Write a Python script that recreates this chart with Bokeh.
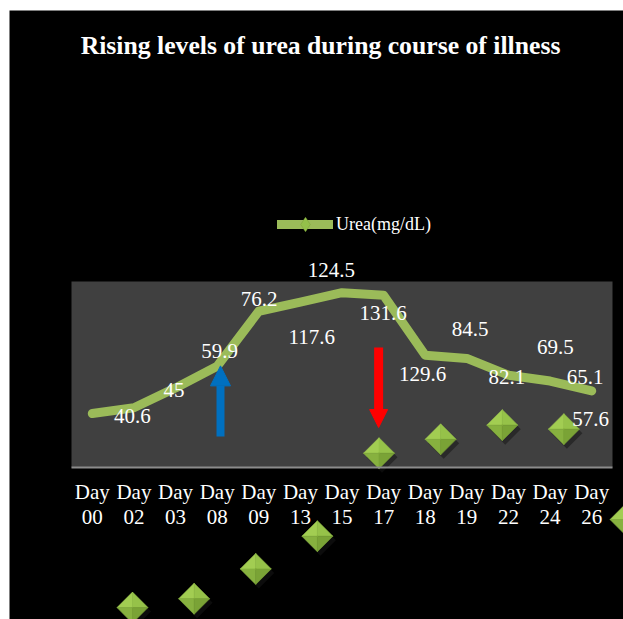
from bokeh.plotting import figure
from bokeh.models import (Range1d, LinearAxis, FixedTicker, BoxAnnotation, Arrow,
                          NormalHead, Legend, LegendItem, ColumnDataSource, Label)
from bokeh.embed import file_html
from bokeh.resources import INLINE

# ---- data ----
days = ["00", "02", "03", "08", "09", "13", "15", "17", "18", "19", "22", "24", "26"]
tick_labels = ["Day\n" + d for d in days]
urea = [40.6, 45, 59.9, 76.2, 117.6, 124.5, 131.6, 129.6, 84.5, 82.1, 69.5, 65.1, 57.6]
series_name = "Urea(mg/dL)"
title_text = "Rising levels of urea during course of illness"

# label placement offsets (pixels) as they appear in the original picture
label_dx = [40, 40, 44, 42, 53, 31, 41, 39, 45, 40, 47, 35, -1]
label_dy = [2, -18, -37, -67, 26, -32, 20, 79, -26, 19, -28, -4, 28]

idx = list(range(len(days)))
FONT = "Liberation Serif"

W, H = 614, 609

p = figure(width=W, height=H, output_backend="svg", toolbar_location=None,
           x_axis_type=None, y_axis_type=None,
           x_range=Range1d(-1.990, 12.764), y_range=Range1d(-114.41, 343.98),
           min_border=0)
p.margin = (10, 0, 0, 9)
p.background_fill_color = "black"
p.border_fill_color = "black"
p.outline_line_color = None
p.xgrid.visible = False
p.ygrid.visible = False

# marker layer is drawn on its own (enlarged) scales, as in the original picture
MX = (-1.996, 7.967)
MY = (34.66, 338.40)
p.extra_x_ranges = {"mx": Range1d(*MX)}
p.extra_y_ranges = {"my": Range1d(*MY)}
px_x = W / (MX[1] - MX[0])
px_y = H / (MY[1] - MY[0])

# plot area
p.add_layout(BoxAnnotation(left=-0.5, right=12.5, bottom=0, top=140,
                           fill_color="#404040", fill_alpha=1, line_color=None,
                           level="underlay"))

src = ColumnDataSource(dict(x=idx, y=urea, lab=[str(v) for v in urea],
                            dx=label_dx, dy=label_dy))

line_r = p.line("x", "y", source=src, line_color="#9bbb59", line_width=9,
                line_join="round", line_cap="round")

# diamond markers with facets and a soft shadow
hx, hy = 15.5 / px_x, 15.5 / px_y
sx, sy = 3 / px_x, -4 / px_y
shadow = dict(xs=[], ys=[])
facets = {k: dict(xs=[], ys=[]) for k in ("tl", "tr", "bl", "br")}
for i, v in zip(idx, urea):
    shadow["xs"].append([i - hx + sx, i + sx, i + hx + sx, i + sx])
    shadow["ys"].append([v + sy, v + hy + sy, v + sy, v - hy + sy])
    facets["tl"]["xs"].append([i - hx, i, i]); facets["tl"]["ys"].append([v, v + hy, v])
    facets["tr"]["xs"].append([i, i + hx, i]); facets["tr"]["ys"].append([v + hy, v, v])
    facets["bl"]["xs"].append([i - hx, i, i]); facets["bl"]["ys"].append([v, v - hy, v])
    facets["br"]["xs"].append([i, i + hx, i]); facets["br"]["ys"].append([v - hy, v, v])
p.patches("xs", "ys", source=ColumnDataSource(shadow), x_range_name="mx",
          y_range_name="my", fill_color="#151515", fill_alpha=0.55, line_color=None)
facet_col = {"tl": "#a2cd52", "tr": "#96c249", "bl": "#87b13f", "br": "#7aa336"}
for k, d in facets.items():
    p.patches("xs", "ys", source=ColumnDataSource(d), x_range_name="mx",
              y_range_name="my", fill_color=facet_col[k], line_color=facet_col[k],
              line_width=0.6)

# legend glyph for the marker (tiny, hidden under the real markers)
leg_mark = p.scatter("x", "y", source=src, x_range_name="mx", y_range_name="my",
                     marker="diamond", size=1, fill_color="#94c04a",
                     line_color="#7aa336", line_width=0.5)

p.text("x", "y", text="lab", source=src, x_offset="dx", y_offset="dy",
       text_color="white", text_font=FONT, text_font_size="21px",
       text_align="center", text_baseline="middle")

# arrows
p.add_layout(Arrow(end=NormalHead(size=20, fill_color="#0070c0", line_color="#0070c0"),
                   x_start=3.08, y_start=23.3, x_end=3.08, y_end=76.5,
                   line_color="#0070c0", line_width=8))
p.add_layout(Arrow(end=NormalHead(size=18, fill_color="#ff0000", line_color="#ff0000"),
                   x_start=6.88, y_start=90.3, x_end=6.88, y_end=30.1,
                   line_color="#ff0000", line_width=9))

xaxis = LinearAxis(ticker=FixedTicker(ticks=idx), fixed_location=0, bounds=(-0.5, 12.5),
                   major_label_overrides={i: t for i, t in zip(idx, tick_labels)})
xaxis.axis_line_color = "#8c8c8c"
xaxis.axis_line_width = 2
xaxis.major_tick_line_color = None
xaxis.minor_tick_line_color = None
xaxis.major_tick_out = 0
xaxis.major_tick_in = 0
xaxis.major_label_standoff = 13
xaxis.major_label_text_color = "white"
xaxis.major_label_text_font = FONT
xaxis.major_label_text_font_size = "21px"
xaxis.major_label_text_line_height = 1.03
p.add_layout(xaxis, "below")

legend = Legend(items=[LegendItem(label=series_name, renderers=[line_r, leg_mark])],
                location=(268, 377), orientation="horizontal",
                glyph_width=56, glyph_height=36, label_standoff=3,
                padding=0, margin=0, border_line_color=None, background_fill_alpha=0,
                label_text_color="white", label_text_font=FONT,
                label_text_font_size="18px")
p.add_layout(legend)

p.add_layout(Label(x=311, y=H - 35.3, x_units="screen", y_units="screen",
                   text=title_text, text_align="center", text_baseline="alphabetic",
                   text_color="white", text_font=FONT, text_font_style="bold",
                   text_font_size="25.7px"))

open("out.html", "w").write(file_html(p, INLINE))
